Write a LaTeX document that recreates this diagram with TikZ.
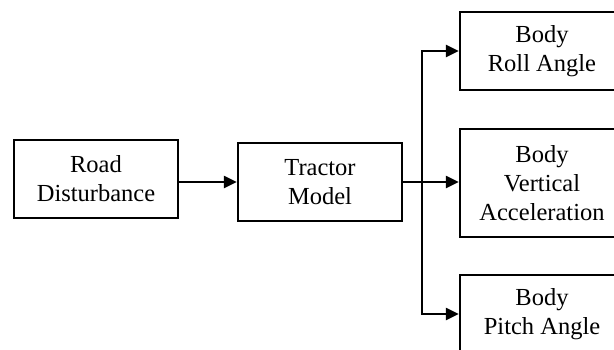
\documentclass[tikz,border=0pt]{standalone}
\usepackage{fontspec}
\setmainfont{Liberation Serif}
\usetikzlibrary{arrows.meta}
\begin{document}
\begin{tikzpicture}[x=1pt,y=-1pt,>={Triangle[length=13pt,width=12pt]},line width=2.4pt,every node/.style={font=\fontsize{24.5}{29}\selectfont},b/.style={draw,minimum width=164pt,minimum height=78pt,align=center,inner sep=0pt}]
\useasboundingbox (0,0) rectangle (614,349);
\node[b] (road) at (96,179){Road\\Disturbance};\node[b] (trac) at (320,182){Tractor\\Model};
\node[b] (roll) at (542,51){Body\\Roll Angle};\node[b,minimum height=108pt] (vert) at (542,183){Body\\Vertical\\Acceleration};\node[b] (pitch) at (542,314){Body\\Pitch Angle};
\coordinate (split) at (422,182);
\draw[->] (road.east|-trac)--(trac);\draw[->] (trac)--(vert.west|-trac);
\draw[->] (split)|-(roll);\draw[->] (split)|-(pitch);
\end{tikzpicture}
\end{document}
